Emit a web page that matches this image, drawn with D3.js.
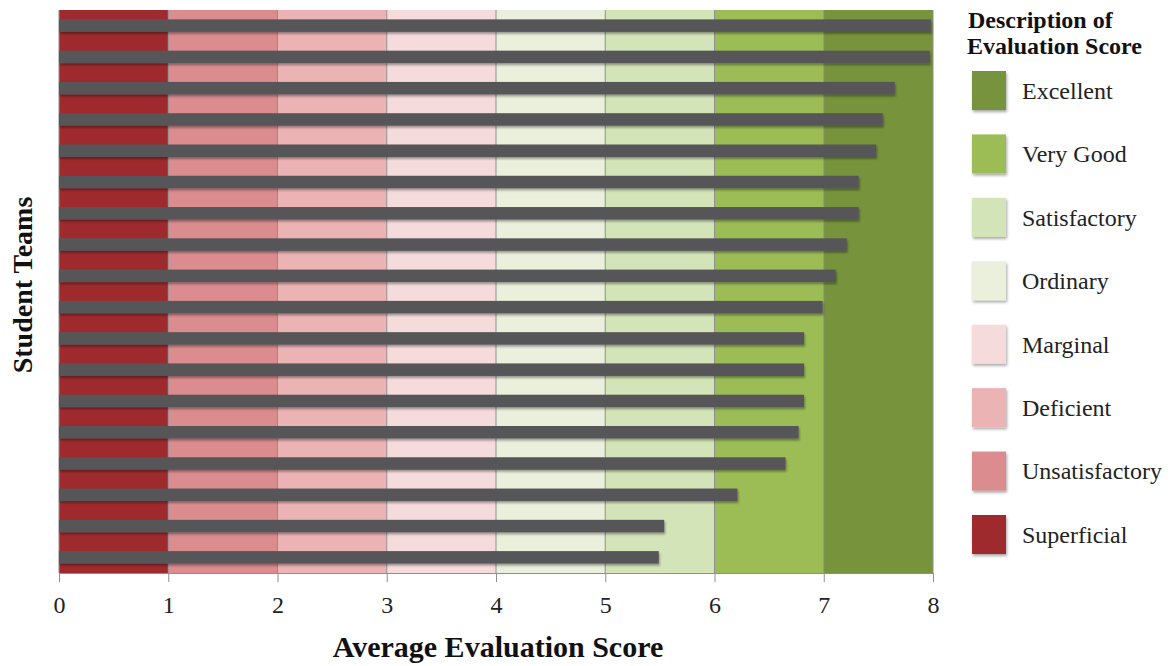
<!DOCTYPE html>
<html>
<head>
<meta charset="utf-8">
<script src="https://cdn.jsdelivr.net/npm/d3@7"></script>
<style>
  html, body { margin: 0; padding: 0; background: #fff; }
  svg { display: block; font-family: "Liberation Serif", "Times New Roman", serif; }
</style>
</head>
<body>
<svg id="chart" width="1171" height="666"></svg>
<script>
// Student teams, top to bottom
const teams = ["T01","T02","T03","T04","T05","T06","T07","T08","T09",
               "T10","T11","T12","T13","T14","T15","T16","T17","T18"];
// Average evaluation score per team
const scores = [7.98, 7.97, 7.65, 7.54, 7.48, 7.32, 7.32, 7.21, 7.11,
                6.99, 6.82, 6.82, 6.82, 6.77, 6.65, 6.21, 5.54, 5.49];
// Score descriptions, one per unit interval [i, i+1]
const levels = ["Superficial","Unsatisfactory","Deficient","Marginal",
                "Ordinary","Satisfactory","Very Good","Excellent"];
const levelColors = ["#9f2a2d","#da8c8f","#ecb3b5","#f6dbdd",
                     "#eaf0dc","#d4e4b9","#9cbd56","#77933c"];
const xTicks = [0,1,2,3,4,5,6,7,8];

const svg = d3.select("#chart");
const plotLeft = 59, plotRight = 933, plotTop = 10, plotBottom = 573;

const x = d3.scaleLinear().domain([0, 8]).range([plotLeft, plotRight]);
const y = d3.scaleBand().domain(teams).range([plotTop, plotBottom])
  .paddingInner(0.6).paddingOuter(0.3);

const defs = svg.append("defs");
const sh = defs.append("filter").attr("id", "shadow")
  .attr("x", "-5%").attr("y", "-40%").attr("width", "115%").attr("height", "200%");
sh.append("feDropShadow").attr("dx", 1).attr("dy", 2).attr("stdDeviation", 1.3)
  .attr("flood-color", "#000").attr("flood-opacity", 0.35);
const sh2 = defs.append("filter").attr("id", "shadowSw")
  .attr("x", "-20%").attr("y", "-20%").attr("width", "150%").attr("height", "150%");
sh2.append("feDropShadow").attr("dx", 1).attr("dy", 2).attr("stdDeviation", 1.5)
  .attr("flood-color", "#000").attr("flood-opacity", 0.35);

// Score bands behind every team
svg.append("g").selectAll("rect").data(levels).join("rect")
  .attr("x", (d, i) => x(i))
  .attr("y", plotTop)
  .attr("width", (d, i) => x(i + 1) - x(i))
  .attr("height", plotBottom - plotTop)
  .attr("fill", (d, i) => levelColors[i]);

// Vertical gridlines
svg.append("g").selectAll("line").data(xTicks).join("line")
  .attr("x1", d => x(d)).attr("x2", d => x(d))
  .attr("y1", plotTop).attr("y2", plotBottom)
  .attr("stroke", "#8f8f8f").attr("stroke-width", 1);

// Team score bars
svg.append("g").selectAll("rect").data(teams).join("rect")
  .attr("x", x(0))
  .attr("y", d => y(d))
  .attr("width", (d, i) => x(scores[i]) - x(0))
  .attr("height", y.bandwidth())
  .attr("fill", "#565658")
  .attr("filter", "url(#shadow)");

// X axis
const xAxis = svg.append("g").attr("transform", `translate(0,${plotBottom})`)
  .call(d3.axisBottom(x).tickValues(xTicks).tickSize(9).tickPadding(14).tickFormat(d3.format("d")));
xAxis.select(".domain").attr("stroke", "#8f8f8f");
xAxis.selectAll(".tick line").attr("stroke", "#8f8f8f");
xAxis.selectAll(".tick text")
  .attr("font-family", "Liberation Serif, Times New Roman, serif")
  .attr("font-size", 24).attr("fill", "#222");

// Axis titles
svg.append("text")
  .attr("x", x(4) + 2).attr("y", 657)
  .attr("text-anchor", "middle")
  .attr("font-size", 30).attr("font-weight", "bold").attr("fill", "#111")
  .text("Average Evaluation Score");

svg.append("text")
  .attr("transform", `translate(32,285) rotate(-90)`)
  .attr("text-anchor", "middle")
  .attr("font-size", 28).attr("font-weight", "bold").attr("fill", "#111")
  .text("Student Teams");

// Legend
const legend = svg.append("g");
legend.append("text").attr("x", 968).attr("y", 28)
  .attr("font-size", 24).attr("font-weight", "bold").attr("fill", "#111")
  .text("Description of");
legend.append("text").attr("x", 967).attr("y", 54)
  .attr("font-size", 24).attr("font-weight", "bold").attr("fill", "#111")
  .text("Evaluation Score");

const legendOrder = d3.range(levels.length).reverse();
const ly = d3.scalePoint().domain(legendOrder).range([91, 535]);
const items = legend.selectAll("g.item").data(legendOrder).join("g")
  .attr("class", "item")
  .attr("transform", i => `translate(0,${ly(i)})`);
items.append("rect")
  .attr("x", 972).attr("y", -20).attr("width", 34).attr("height", 39)
  .attr("fill", i => levelColors[i])
  .attr("filter", "url(#shadowSw)");
items.append("text")
  .attr("x", 1022).attr("y", 0).attr("dy", "0.33em")
  .attr("font-size", 24).attr("fill", "#222")
  .text(i => levels[i]);
</script>
</body>
</html>
